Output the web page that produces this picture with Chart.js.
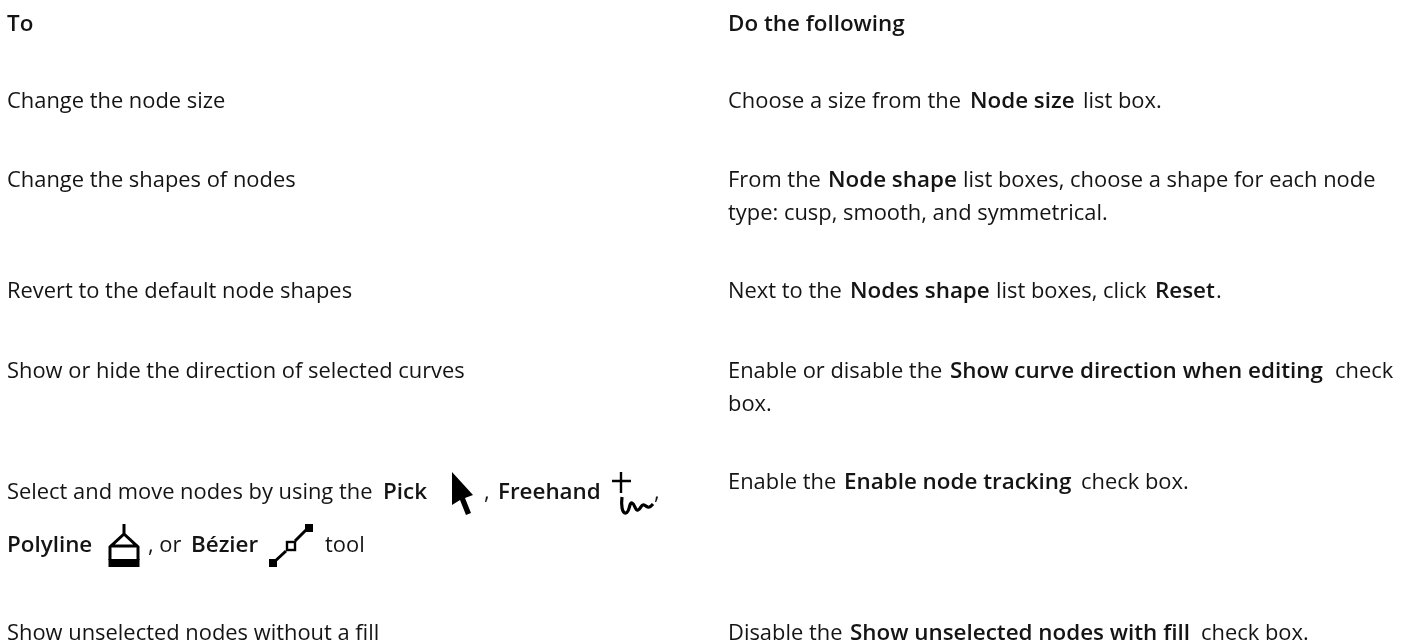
<!DOCTYPE html>
<html>
<head>
<meta charset="utf-8">
<style>
  html, body { margin: 0; padding: 0; background: #fff; }
  #wrap { width: 1406px; height: 643px; }
</style>
<script src="https://cdn.jsdelivr.net/npm/chart.js@4"></script>
</head>
<body>
<div id="wrap"><canvas id="table_chart"></canvas></div>
<script>
// text of the table, one entry per drawn run
let headers = ["To", "Do the following"];
let left_rows = [
  "Change the node size",
  "Change the shapes of nodes",
  "Revert to the default node shapes",
  "Show or hide the direction of selected curves",
  "Select and move nodes by using the",
  "Show unselected nodes without a fill"
];
let select_runs = ["Pick", ",", "Freehand", ",", "Polyline", ", or", "Bézier", "tool"];
let select_bold = [true, false, true, false, true, false, true, false];
let right_runs = [
  "Choose a size from the", "Node size", "list box.",
  "From the", "Node shape", "list boxes, choose a shape for each node",
  "type: cusp, smooth, and symmetrical.",
  "Next to the", "Nodes shape", "list boxes, click", "Reset", ".",
  "Enable or disable the", "Show curve direction when editing", "check",
  "box.",
  "Enable the", "Enable node tracking", "check box.",
  "Disable the", "Show unselected nodes with fill", "check box."
];
let right_bold = [
  false, true, false,
  false, true, false,
  false,
  false, true, false, true, false,
  false, true, false,
  false,
  false, true, false,
  false, true, false
];

// layout of the page, in pixels of the picture
let header_x = [7, 728];
let header_y = [31, 31];
let left_x = 7;
let left_y = [108, 187, 298, 378, 499, 640];
let select_x = [383, 484, 498, 654, 7, 148, 191, 325];
let select_y = [499, 499, 499, 499, 552, 552, 552, 552];
let right_x = [
  728, 970, 1083,
  728, 828, 963,
  728,
  728, 850, 996, 1155, 1216,
  728, 950, 1335,
  728,
  728, 844, 1081,
  728, 850, 1201
];
let right_y = [
  108, 108, 108,
  187, 187, 187,
  220,
  298, 298, 298, 298, 298,
  378, 378, 378,
  411,
  489, 489, 489,
  640, 640, 640
];

let regular_font = "21.9px 'Open Sans'";
let bold_font = "600 22.4px 'Open Sans'";

let runs = [];
headers.forEach((t, i) => runs.push({ x: header_x[i], y: header_y[i], text: t, bold: true }));
left_rows.forEach((t, i) => runs.push({ x: left_x, y: left_y[i], text: t, bold: false }));
select_runs.forEach((t, i) => runs.push({ x: select_x[i], y: select_y[i], text: t, bold: select_bold[i] }));
right_runs.forEach((t, i) => runs.push({ x: right_x[i], y: right_y[i], text: t, bold: right_bold[i] }));

// the tool icons sit inline with the text
function drawIcons(ctx, sx, sy) {
  ctx.fillStyle = "#000";
  ctx.strokeStyle = "#000";
  ctx.lineCap = "butt";
  ctx.lineJoin = "miter";

  // pick arrow
  ctx.beginPath();
  ctx.moveTo(sx(452), sy(472));
  ctx.lineTo(sx(473), sy(495));
  ctx.lineTo(sx(465), sy(498));
  ctx.lineTo(sx(471), sy(513));
  ctx.lineTo(sx(466), sy(515));
  ctx.lineTo(sx(460), sy(500));
  ctx.lineTo(sx(452), sy(505));
  ctx.closePath();
  ctx.fill();

  // freehand: cross and squiggle
  ctx.lineWidth = 2.4;
  ctx.beginPath();
  ctx.moveTo(sx(612), sy(481)); ctx.lineTo(sx(631), sy(481));
  ctx.moveTo(sx(621), sy(472)); ctx.lineTo(sx(621), sy(493));
  ctx.stroke();
  ctx.lineWidth = 3.2;
  ctx.lineJoin = "round";
  ctx.beginPath();
  ctx.moveTo(sx(622), sy(497));
  ctx.bezierCurveTo(sx(621), sy(505), sx(622), sy(514), sx(626), sy(513));
  ctx.bezierCurveTo(sx(630), sy(512), sx(629), sy(502), sx(632), sy(503));
  ctx.bezierCurveTo(sx(635), sy(504), sx(635), sy(511), sx(638), sy(510));
  ctx.bezierCurveTo(sx(641), sy(509), sx(641), sy(504), sx(644), sy(505));
  ctx.bezierCurveTo(sx(647), sy(506), sx(648), sy(510), sx(653), sy(504));
  ctx.stroke();
  ctx.lineJoin = "miter";

  // polyline
  ctx.lineWidth = 3;
  ctx.beginPath();
  ctx.moveTo(sx(124), sy(524)); ctx.lineTo(sx(124), sy(535));
  ctx.moveTo(sx(110), sy(560)); ctx.lineTo(sx(110), sy(547)); ctx.lineTo(sx(124), sy(534));
  ctx.lineTo(sx(138), sy(547)); ctx.lineTo(sx(138), sy(560));
  ctx.moveTo(sx(110), sy(546)); ctx.lineTo(sx(138), sy(546));
  ctx.stroke();
  ctx.fillRect(sx(108.5), sy(559), 31, 8);

  // bezier
  ctx.lineWidth = 3;
  ctx.beginPath();
  ctx.moveTo(sx(273), sy(563)); ctx.lineTo(sx(286), sy(551));
  ctx.moveTo(sx(295), sy(541)); ctx.lineTo(sx(309), sy(527));
  ctx.stroke();
  ctx.fillRect(sx(269), sy(559), 8, 8);
  ctx.fillRect(sx(305), sy(524), 8, 8);
  ctx.lineWidth = 2.4;
  ctx.strokeRect(sx(287), sy(542), 8, 8);
}

let runsPlugin = {
  id: "runsPlugin",
  afterDatasetsDraw(chart) {
    let ctx = chart.ctx;
    let points = chart.getDatasetMeta(0).data;
    ctx.save();
    ctx.fillStyle = "#141414";
    ctx.textBaseline = "alphabetic";
    ctx.textAlign = "left";
    points.forEach((p, i) => {
      ctx.font = runs[i].bold ? bold_font : regular_font;
      ctx.fillText(runs[i].text, p.x, p.y);
    });
    drawIcons(ctx, v => chart.scales.x.getPixelForValue(v), v => chart.scales.y.getPixelForValue(v));
    ctx.restore();
  }
};

let chart = document.querySelector("#table_chart");
new Chart(chart, {
  type: "scatter",
  data: {
    datasets: [{
      data: runs.map(r => ({ x: r.x, y: r.y })),
      pointRadius: 0,
      showLine: false
    }]
  },
  options: {
    responsive: true,
    maintainAspectRatio: false,
    animation: false,
    layout: { padding: 0 },
    plugins: { legend: { display: false }, tooltip: { enabled: false } },
    scales: {
      x: { type: "linear", min: 0, max: 1406, display: false },
      y: { type: "linear", min: 0, max: 643, reverse: true, display: false }
    }
  },
  plugins: [runsPlugin]
});
</script>
</body>
</html>
